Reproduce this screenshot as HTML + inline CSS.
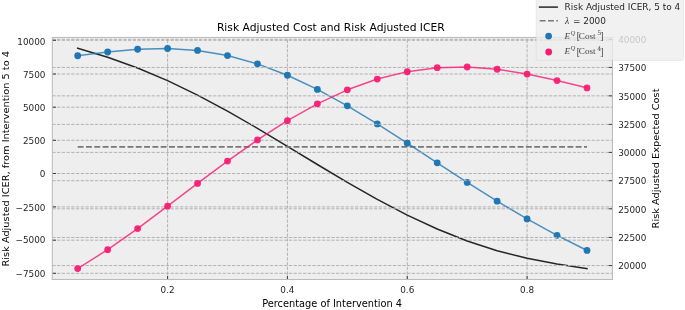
<!DOCTYPE html>
<html lang="en"><head><meta charset="utf-8"><title>Risk Adjusted Cost and Risk Adjusted ICER</title>
<style>html,body{margin:0;padding:0;background:#fff;overflow:hidden}svg{display:block}</style></head>
<body>
<svg width="685" height="310" viewBox="0 0 685 310" font-family="DejaVu Sans, Liberation Sans, sans-serif">
<rect width="685" height="310" fill="#ffffff"/>
<rect x="52.3" y="37.45" width="560.15" height="242.05" fill="#eeeeee"/>
<g stroke="#b2b2b2" stroke-width="1" stroke-dasharray="3.3 1.43" fill="none">
<path d="M167.58 279.5V37.45"/>
<path d="M287.41 279.5V37.45"/>
<path d="M407.25 279.5V37.45"/>
<path d="M527.08 279.5V37.45"/>
<path d="M52.3 40.30H612.45"/>
<path d="M52.3 74.00H612.45"/>
<path d="M52.3 107.20H612.45"/>
<path d="M52.3 140.30H612.45"/>
<path d="M52.3 173.50H612.45"/>
<path d="M52.3 206.90H612.45"/>
<path d="M52.3 240.20H612.45"/>
<path d="M52.3 273.30H612.45"/>
</g>
<clipPath id="c"><rect x="52.3" y="37.45" width="560.15" height="242.05"/></clipPath>
<g clip-path="url(#c)" fill="none">
<polyline points="77.70,48.19 107.66,57.23 137.62,68.00 167.58,80.64 197.54,95.09 227.49,111.11 257.45,128.33 287.41,146.30 317.37,164.49 347.33,182.37 377.29,199.40 407.25,215.09 437.21,229.04 467.16,240.95 497.12,250.69 527.08,258.32 557.04,264.10 587.00,268.57" stroke="#262626" stroke-width="1.5" stroke-linejoin="round" stroke-linecap="square"/>
<path d="M77.70 146.83H587.00" stroke="#777777" stroke-width="1.6" stroke-dasharray="5.9 2.4"/>
<polyline points="77.70,55.73 107.66,52.02 137.62,49.25 167.58,48.49 197.54,50.47 227.49,55.55 257.45,63.86 287.41,75.25 317.37,89.39 347.33,105.83 377.29,123.97 407.25,143.20 437.21,162.87 467.16,182.38 497.12,201.20 527.08,218.93 557.04,235.36 587.00,250.45" stroke="#1f77b4" stroke-opacity="0.8" stroke-width="1.5" stroke-linejoin="round" stroke-linecap="square"/>
<circle cx="77.70" cy="55.73" r="3.4" fill="#1f77b4"/>
<circle cx="107.66" cy="52.02" r="3.4" fill="#1f77b4"/>
<circle cx="137.62" cy="49.25" r="3.4" fill="#1f77b4"/>
<circle cx="167.58" cy="48.49" r="3.4" fill="#1f77b4"/>
<circle cx="197.54" cy="50.47" r="3.4" fill="#1f77b4"/>
<circle cx="227.49" cy="55.55" r="3.4" fill="#1f77b4"/>
<circle cx="257.45" cy="63.86" r="3.4" fill="#1f77b4"/>
<circle cx="287.41" cy="75.25" r="3.4" fill="#1f77b4"/>
<circle cx="317.37" cy="89.39" r="3.4" fill="#1f77b4"/>
<circle cx="347.33" cy="105.83" r="3.4" fill="#1f77b4"/>
<circle cx="377.29" cy="123.97" r="3.4" fill="#1f77b4"/>
<circle cx="407.25" cy="143.20" r="3.4" fill="#1f77b4"/>
<circle cx="437.21" cy="162.87" r="3.4" fill="#1f77b4"/>
<circle cx="467.16" cy="182.38" r="3.4" fill="#1f77b4"/>
<circle cx="497.12" cy="201.20" r="3.4" fill="#1f77b4"/>
<circle cx="527.08" cy="218.93" r="3.4" fill="#1f77b4"/>
<circle cx="557.04" cy="235.36" r="3.4" fill="#1f77b4"/>
<circle cx="587.00" cy="250.45" r="3.4" fill="#1f77b4"/>
</g>
<g stroke="#b2b2b2" stroke-width="1" stroke-dasharray="3.3 1.43" fill="none">
<path d="M52.3 39.30H612.45"/>
<path d="M52.3 67.45H612.45"/>
<path d="M52.3 95.85H612.45"/>
<path d="M52.3 124.40H612.45"/>
<path d="M52.3 152.40H612.45"/>
<path d="M52.3 180.70H612.45"/>
<path d="M52.3 208.80H612.45"/>
<path d="M52.3 237.45H612.45"/>
<path d="M52.3 265.55H612.45"/>
</g>
<g clip-path="url(#c)" fill="none">
<polyline points="77.70,268.57 107.66,249.68 137.62,228.58 167.58,206.20 197.54,183.44 227.49,161.10 257.45,139.96 287.41,120.68 317.37,103.81 347.33,89.82 377.29,79.04 407.25,71.64 437.21,67.67 467.16,66.98 497.12,69.27 527.08,74.03 557.04,80.54 587.00,87.88" stroke="#f81a72" stroke-opacity="0.8" stroke-width="1.5" stroke-linejoin="round" stroke-linecap="square"/>
<circle cx="77.70" cy="268.57" r="3.4" fill="#f81a72" fill-opacity="0.93"/>
<circle cx="107.66" cy="249.68" r="3.4" fill="#f81a72" fill-opacity="0.93"/>
<circle cx="137.62" cy="228.58" r="3.4" fill="#f81a72" fill-opacity="0.93"/>
<circle cx="167.58" cy="206.20" r="3.4" fill="#f81a72" fill-opacity="0.93"/>
<circle cx="197.54" cy="183.44" r="3.4" fill="#f81a72" fill-opacity="0.93"/>
<circle cx="227.49" cy="161.10" r="3.4" fill="#f81a72" fill-opacity="0.93"/>
<circle cx="257.45" cy="139.96" r="3.4" fill="#f81a72" fill-opacity="0.93"/>
<circle cx="287.41" cy="120.68" r="3.4" fill="#f81a72" fill-opacity="0.93"/>
<circle cx="317.37" cy="103.81" r="3.4" fill="#f81a72" fill-opacity="0.93"/>
<circle cx="347.33" cy="89.82" r="3.4" fill="#f81a72" fill-opacity="0.93"/>
<circle cx="377.29" cy="79.04" r="3.4" fill="#f81a72" fill-opacity="0.93"/>
<circle cx="407.25" cy="71.64" r="3.4" fill="#f81a72" fill-opacity="0.93"/>
<circle cx="437.21" cy="67.67" r="3.4" fill="#f81a72" fill-opacity="0.93"/>
<circle cx="467.16" cy="66.98" r="3.4" fill="#f81a72" fill-opacity="0.93"/>
<circle cx="497.12" cy="69.27" r="3.4" fill="#f81a72" fill-opacity="0.93"/>
<circle cx="527.08" cy="74.03" r="3.4" fill="#f81a72" fill-opacity="0.93"/>
<circle cx="557.04" cy="80.54" r="3.4" fill="#f81a72" fill-opacity="0.93"/>
<circle cx="587.00" cy="87.88" r="3.4" fill="#f81a72" fill-opacity="0.93"/>
</g>
<g stroke="#333333" stroke-width="0.95" fill="none">
<path d="M167.58 279.5v-3.7"/>
<path d="M287.41 279.5v-3.7"/>
<path d="M407.25 279.5v-3.7"/>
<path d="M527.08 279.5v-3.7"/>
<path d="M52.3 40.30h3.7"/>
<path d="M52.3 74.00h3.7"/>
<path d="M52.3 107.20h3.7"/>
<path d="M52.3 140.30h3.7"/>
<path d="M52.3 173.50h3.7"/>
<path d="M52.3 206.90h3.7"/>
<path d="M52.3 240.20h3.7"/>
<path d="M52.3 273.30h3.7"/>
<path d="M612.45 39.30h-3.7"/>
<path d="M612.45 67.45h-3.7"/>
<path d="M612.45 95.85h-3.7"/>
<path d="M612.45 124.40h-3.7"/>
<path d="M612.45 152.40h-3.7"/>
<path d="M612.45 180.70h-3.7"/>
<path d="M612.45 208.80h-3.7"/>
<path d="M612.45 237.45h-3.7"/>
<path d="M612.45 265.55h-3.7"/>
</g>
<rect x="52.3" y="37.45" width="560.15" height="242.05" fill="none" stroke="#bcbcbc" stroke-width="1.05"/>
<g font-size="8.85" fill="#262626">
<text x="167.58" y="293" text-anchor="middle">0.2</text>
<text x="287.41" y="293" text-anchor="middle">0.4</text>
<text x="407.25" y="293" text-anchor="middle">0.6</text>
<text x="527.08" y="293" text-anchor="middle">0.8</text>
<text x="45.5" y="45" text-anchor="end">10000</text>
<text x="45.5" y="78" text-anchor="end">7500</text>
<text x="45.5" y="111" text-anchor="end">5000</text>
<text x="45.5" y="144" text-anchor="end">2500</text>
<text x="45.5" y="177" text-anchor="end">0</text>
<text x="45.5" y="211" text-anchor="end">−2500</text>
<text x="45.5" y="243" text-anchor="end">−5000</text>
<text x="45.5" y="277" text-anchor="end">−7500</text>
<text x="618.2" y="43">40000</text>
<text x="618.2" y="71">37500</text>
<text x="618.2" y="100">35000</text>
<text x="618.2" y="128">32500</text>
<text x="618.2" y="156">30000</text>
<text x="618.2" y="184">27500</text>
<text x="618.2" y="213">25000</text>
<text x="618.2" y="241">22500</text>
<text x="618.2" y="269">20000</text>
</g>
<text x="330.85" y="31" font-size="10.74" text-anchor="middle" fill="#000">Risk Adjusted Cost and Risk Adjusted ICER</text>
<text x="332.15" y="307" font-size="9.8" text-anchor="middle" fill="#000">Percentage of Intervention 4</text>
<text transform="translate(8.8 158.75) rotate(-90) scale(1 0.94)" font-size="9.8" text-anchor="middle" fill="#000">Risk Adjusted ICER, from Intervention 5 to 4</text>
<text transform="translate(659.25 158.45) rotate(-90) scale(1 0.95)" font-size="9.8" text-anchor="middle" fill="#000">Risk Adjusted Expected Cost</text>
<rect x="536.2" y="-10" width="147.4" height="70.4" rx="2" ry="2" fill="#eeeeee" fill-opacity="0.8" stroke="#cccccc" stroke-opacity="0.55" stroke-width="0.6"/>
<path d="M539.6 7.1H557.2" stroke="#262626" stroke-width="1.5" stroke-linecap="square"/>
<path d="M539.7 20.7H557.9" stroke="#777777" stroke-width="1.6" stroke-dasharray="5.9 2.4"/>
<circle cx="548.6" cy="36.05" r="3.4" fill="#1f77b4"/>
<circle cx="548.7" cy="52.0" r="3.4" fill="#f81a72"/>
<g font-size="8.93" fill="#262626">
<text x="564.6" y="10">Risk Adjusted ICER, 5 to 4</text>
<text x="564.9" y="23.7" font-family="Liberation Serif, serif" font-style="italic" font-size="9.6" fill="#333">λ</text>
<text x="572.95" y="24">= 2000</text>
<g font-family="Liberation Serif, serif" fill="#444444"><text x="564.6" y="38.7" font-size="9.1" font-style="italic">E</text><text x="570.6" y="34.50" font-size="6.6" font-style="italic">Q</text><text x="576.5" y="38.80" font-size="10.9" fill="#555">[</text><text x="578.8" y="38.7" font-size="9.1" textLength="16.8" lengthAdjust="spacingAndGlyphs">Cost</text><text x="597.3" y="34.80" font-size="6.3" font-family="DejaVu Serif, Liberation Serif, serif">5</text><text x="600.1" y="38.80" font-size="10.9" fill="#555">]</text></g>
<g font-family="Liberation Serif, serif" fill="#444444"><text x="564.6" y="54.4" font-size="9.1" font-style="italic">E</text><text x="570.6" y="50.20" font-size="6.6" font-style="italic">Q</text><text x="576.5" y="54.50" font-size="10.9" fill="#555">[</text><text x="578.8" y="54.4" font-size="9.1" textLength="16.8" lengthAdjust="spacingAndGlyphs">Cost</text><text x="597.3" y="50.50" font-size="6.3" font-family="DejaVu Serif, Liberation Serif, serif">4</text><text x="600.1" y="54.50" font-size="10.9" fill="#555">]</text></g>
</g>
</svg>
</body></html>
